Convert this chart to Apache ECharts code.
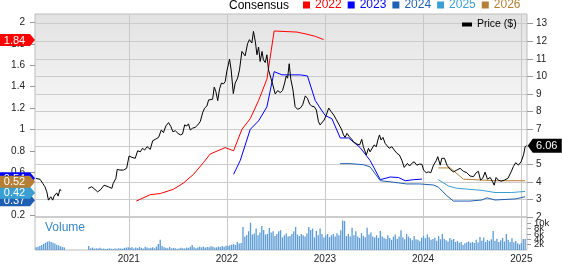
<!DOCTYPE html>
<html><head><meta charset="utf-8">
<script src="https://cdn.jsdelivr.net/npm/echarts@6/dist/echarts.min.js"></script>
<style>html,body{margin:0;padding:0;background:#fff}#c{width:562px;height:264px}</style>
</head><body><div id="c"></div>
<script>
// ---------------- DATA ----------------
const xMin = '2020-01-18', xMax = '2025-01-22';
const yearTicks = ['2021-01-01','2022-01-01','2023-01-01','2024-01-01','2025-01-01'];
const epsTicks = [0.2,0.4,0.6,0.8,1,1.2,1.4,1.6,1.8,2];
const priceTicks = [2,3,4,5,6,7,8,9,10,11,12,13];
const volTicks = [0,2,4,6,8,10,12];
const lastPriceLabel = '6.06';

const priceDates = ['2020-01-22','2020-02-06','2020-02-16','2020-02-24','2020-03-02','2020-03-08','2020-03-17','2020-03-24','2020-03-29','2020-04-03','2020-04-08','2020-04-13','2020-04-20','2020-04-24','2020-06-15',
'2020-08-03','2020-08-16','2020-08-28','2020-09-07','2020-09-19','2020-10-01','2020-10-08','2020-10-17','2020-10-30','2020-11-04','2020-11-14','2020-11-19','2020-11-29','2020-12-12','2020-12-24',
'2021-01-02','2021-01-13','2021-01-25','2021-02-03','2021-02-13','2021-02-21','2021-03-01','2021-03-10','2021-03-22','2021-03-31','2021-04-10','2021-04-22','2021-05-02','2021-05-10','2021-05-19','2021-05-29','2021-06-07','2021-06-14','2021-06-23','2021-07-03','2021-07-12','2021-07-20','2021-07-28','2021-08-05','2021-08-11','2021-08-18','2021-08-26','2021-09-05','2021-09-15','2021-09-24','2021-10-03','2021-10-10','2021-10-19','2021-10-25','2021-11-01','2021-11-09','2021-11-15','2021-11-21','2021-11-28','2021-12-05','2021-12-12','2021-12-20','2021-12-26',
'2022-01-01','2022-01-11','2022-01-17','2022-01-25','2022-02-01','2022-02-10','2022-02-17','2022-02-26','2022-03-04','2022-03-10','2022-03-19','2022-03-26','2022-04-04','2022-04-10','2022-04-17','2022-04-23','2022-04-29','2022-05-05','2022-05-12','2022-05-17','2022-05-24','2022-05-30','2022-06-05','2022-06-14','2022-06-21','2022-06-30','2022-07-09','2022-07-19','2022-07-27','2022-08-04','2022-08-10','2022-08-15','2022-08-21','2022-08-27','2022-09-04','2022-09-12','2022-09-21','2022-10-01','2022-10-10','2022-10-20','2022-10-28','2022-11-05','2022-11-13','2022-11-22','2022-11-30','2022-12-08','2022-12-14','2022-12-21','2022-12-29',
'2023-01-06','2023-01-15','2023-01-24','2023-02-03','2023-02-12','2023-02-23','2023-03-05','2023-03-11','2023-03-17','2023-03-24','2023-04-02','2023-04-11','2023-04-17','2023-04-30','2023-05-10','2023-05-18','2023-05-24','2023-06-04','2023-06-12','2023-06-18','2023-06-25','2023-07-03','2023-07-11','2023-07-17','2023-07-23','2023-07-29','2023-08-05','2023-08-13','2023-08-20','2023-08-28','2023-09-07','2023-09-16','2023-09-26','2023-10-05','2023-10-14','2023-10-23','2023-10-30','2023-11-04','2023-11-12','2023-11-20','2023-11-29','2023-12-09','2023-12-19','2023-12-28',
'2024-01-03','2024-01-13','2024-01-21','2024-01-30','2024-02-09','2024-02-19','2024-02-25','2024-03-05','2024-03-11','2024-03-21','2024-03-30','2024-04-11','2024-04-23','2024-05-06','2024-05-18','2024-05-30','2024-06-12','2024-06-24','2024-07-07','2024-07-17','2024-07-25','2024-08-02','2024-08-10','2024-08-19','2024-08-28','2024-09-07','2024-09-16','2024-09-22','2024-09-29','2024-10-07','2024-10-18','2024-10-30','2024-11-12','2024-11-24','2024-12-02','2024-12-11','2024-12-21','2024-12-31','2025-01-09','2025-01-15','2025-01-21'];
const priceValues = [4.20,4.14,3.91,3.72,3.43,2.96,3.15,2.96,3.19,3.11,3.37,3.19,3.57,3.49,null,
3.63,3.72,3.57,3.43,3.57,3.81,3.91,3.72,3.63,3.91,4.20,4.71,4.67,4.67,4.77,
5.47,5.39,5.34,5.77,5.71,5.91,5.81,6.00,5.85,6.34,6.42,6.53,6.95,6.80,7.18,7.37,7.14,6.85,6.91,6.76,6.67,6.72,7.24,7.18,7.30,6.95,7.05,7.10,7.24,7.43,7.94,8.19,8.32,8.66,8.76,8.70,9.39,9.14,8.62,9.30,9.62,9.58,9.71,
10.30,10.98,10.37,9.02,9.62,9.90,10.37,11.42,11.33,11.17,11.86,12.09,11.90,12.56,11.99,11.23,11.67,10.85,11.42,10.94,10.79,11.23,10.37,9.90,9.52,9.00,9.19,9.08,9.19,9.62,10.03,9.90,10.72,9.84,9.23,8.28,8.13,8.19,8.38,8.89,8.75,8.43,8.30,8.28,8.09,7.42,7.24,7.30,7.52,
7.80,8.20,8.00,7.80,7.55,7.24,6.95,6.67,6.53,6.76,6.57,6.42,6.28,6.15,6.10,6.42,6.00,5.53,5.91,5.71,5.80,6.10,6.00,6.38,6.67,6.38,6.53,6.19,6.10,5.91,6.00,5.81,5.62,5.53,5.24,4.82,4.90,5.05,4.90,5.05,5.14,4.95,5.01,5.00,
4.67,4.52,4.57,4.52,4.95,5.20,5.43,4.95,5.34,5.34,4.95,4.71,4.57,4.67,4.77,4.60,4.52,4.33,4.30,4.52,4.60,4.10,4.20,4.55,4.15,4.25,4.00,3.81,4.25,4.10,4.04,4.10,4.20,4.57,4.86,5.09,4.95,5.14,5.53,6.00,6.06];

const c2022Dates = ['2021-01-29','2021-03-22','2021-04-28','2021-06-16','2021-07-24','2021-08-30','2021-10-06','2021-10-31','2021-12-26','2022-01-26','2022-02-26','2022-03-29','2022-04-29','2022-05-30','2022-06-26','2022-09-19','2022-10-26','2022-11-26','2022-12-27'];
const c2022Values = [0.33,0.39,0.40,0.44,0.50,0.58,0.69,0.77,0.83,0.80,1.00,1.10,1.27,1.47,1.92,1.91,1.89,1.87,1.84];

const c2023Dates = ['2022-01-26','2022-02-20','2022-03-29','2022-04-29','2022-05-30','2022-06-26','2022-07-25','2022-10-01','2022-10-28','2022-11-26','2022-12-14','2023-01-02','2023-01-27','2023-02-27','2023-03-30','2023-05-12','2023-06-18','2023-07-26','2023-09-01','2023-10-02','2023-10-27','2023-11-26','2023-12-28'];
const c2023Values = [0.58,0.71,1.00,1.08,1.21,1.54,1.51,1.51,1.50,1.27,1.20,1.13,1.10,0.92,0.92,0.83,0.71,0.53,0.555,0.55,0.52,0.53,0.535];

const c2024Dates = ['2023-02-27','2023-04-05','2023-05-24','2023-06-18','2023-07-26','2023-09-01','2023-11-01','2023-12-20','2024-02-09','2024-02-27','2024-03-30','2024-04-23','2024-06-24','2024-08-07','2024-08-26','2024-09-25','2024-12-09','2025-01-15'];
const c2024Values = [0.68,0.68,0.67,0.65,0.52,0.51,0.49,0.49,0.48,0.46,0.38,0.33,0.33,0.34,0.36,0.34,0.35,0.37];

const c2025Dates = ['2024-02-27','2024-04-05','2024-05-06','2024-08-07','2024-09-25','2024-11-26','2025-01-15'];
const c2025Values = [0.53,0.47,0.45,0.43,0.41,0.41,0.42];

const c2026Dates = ['2024-02-27','2024-04-11','2024-05-30','2024-09-25','2025-01-15'];
const c2026Values = [0.64,0.64,0.535,0.52,0.52];

const volStart = '2020-01-22'; // weekly bars from this date
const volumeK = [1.0,1.2,1.5,1.9,2.3,2.7,3.1,3.3,3.0,2.7,2.4,2.0,1.7,1.4,1.1,0.9,
null,null,null,null,null,null,null,null,null,null,null,null,
1.5,0.6,0.9,0.5,0.7,0.6,0.8,0.5,0.6,0.4,0.5,0.6,0.5,0.4,0.6,0.5,0.7,0.6,0.5,0.8,0.9,1.0,
0.8,1.0,0.6,0.9,0.7,1.1,0.8,0.6,1.2,0.9,0.7,0.8,1.0,0.6,1.3,2.2,3.8,1.5,1.0,0.8,0.7,1.1,0.6,0.8,0.7,0.5,0.6,0.8,0.7,0.6,0.9,0.8,1.2,1.9,1.0,0.7,0.9,1.2,1.0,1.3,0.9,1.1,1.0,1.4,1.2,0.9,1.0,1.3,1.1,1.5,1.2,1.6,
1.5,1.8,2.0,2.2,1.9,3.0,2.4,2.6,8.6,5.0,5.6,7.0,10.2,5.8,6.2,8.0,5.5,6.5,9.0,7.5,5.8,6.0,8.2,6.5,7.0,5.2,6.0,7.0,
7.4,4.7,5.5,6.3,5.0,5.2,6.0,7.0,8.6,5.8,
5.2,6.0,5.5,5.0,6.2,8.6,7.5,8.0,4.7,7.1,
5.5,8.0,6.0,4.7,5.5,6.0,4.8,5.5,6.0,5.0,
6.3,5.5,7.4,11.0,10.8,5.2,6.0,5.0,8.3,5.5,
7.0,5.0,4.5,6.3,5.2,4.8,8.3,5.8,6.5,5.0,
4.7,5.5,4.5,7.1,5.0,4.6,4.1,5.5,4.5,3.8,
5.0,5.8,4.2,5.0,7.4,4.8,4.0,6.0,5.0,4.4,
3.6,5.2,4.0,3.8,3.3,4.6,5.2,4.4,5.8,4.8,
3.8,4.1,4.6,3.5,5.2,4.0,6.0,4.2,3.6,3.2,
4.5,3.8,4.1,3.0,3.4,2.7,3.0,1.9,2.5,2.9,
3.2,2.7,3.0,2.6,3.8,2.8,4.9,3.5,4.7,3.0,
3.8,3.4,4.0,7.1,3.5,4.2,3.0,3.6,4.5,3.2,
6.0,3.8,3.0,4.4,2.9,3.4,2.5,2.1,2.6,4.1,4.1];

// ---------------- CHART ----------------
const FONT = '"Liberation Sans", Arial, sans-serif';
const COLORS = {c2022:'#ff0000', c2023:'#0000ff', c2024:'#1e5fb3', c2025:'#3a9fd2', c2026:'#b57f35'};
const leftFlag = 'path://M0,0 L30,0 L35,6 L30,12 L0,12 Z';
const rightFlag = 'path://M0,7 L5,0 L34,0 L34,14 L5,14 Z';

function ts(s) { const p = s.split('-').map(Number); return new Date(p[0], p[1] - 1, p[2]).getTime(); }
function pairs(d, v) { return d.map((x, i) => [ts(x), v[i]]); }
const X0 = ts(xMin), X1 = ts(xMax);
const yearTs = yearTicks.map(ts);

function consensus(name, dates, values, color, dy, z) {
  const last = values[values.length - 1];
  return {
    name, type: 'line', xAxisIndex: 0, yAxisIndex: 0, data: pairs(dates, values),
    symbol: 'none', showSymbol: false, lineStyle: {color, width: 1}, itemStyle: {color},
    silent: true,
    markPoint: {
      z, symbol: leftFlag, symbolSize: [35, 12], symbolOffset: [-17.5, dy], silent: true,
      itemStyle: {color},
      label: {show: true, color: '#fff', fontSize: 11, fontFamily: FONT, offset: [-3, 0.5], formatter: last.toFixed(2)},
      data: [{coord: [X0, last]}]
    }
  };
}

const v0 = ts(volStart);
const volData = volumeK.map((v, i) => {
  const d = new Date(v0); d.setDate(d.getDate() + 7 * i);
  return [d.getTime(), v];
});

const chart = echarts.init(document.getElementById('c'), null, {renderer: 'canvas'});
const axisText = {color: '#222', fontSize: 10, fontFamily: FONT};
chart.setOption({
  animation: false,
  textStyle: {fontFamily: FONT},
  title: {text: 'Consensus', left: 229, top: 0, padding: 0,
    textStyle: {fontSize: 12, fontWeight: 'normal', color: '#000', fontFamily: FONT}},
  legend: [{
    left: 303, top: -1, padding: 0, itemWidth: 7, itemHeight: 7, itemGap: 6, icon: 'rect', selectedMode: false,
    textStyle: {fontSize: 12, fontFamily: FONT},
    data: [
      {name: '2022', textStyle: {color: COLORS.c2022}},
      {name: '2023', textStyle: {color: COLORS.c2023}},
      {name: '2024', textStyle: {color: COLORS.c2024}},
      {name: '2025', textStyle: {color: COLORS.c2025}},
      {name: '2026', textStyle: {color: COLORS.c2026}}
    ]
  }, {
    left: 462, top: 19, padding: 0, itemWidth: 10, itemHeight: 4, icon: 'rect', selectedMode: false,
    textStyle: {fontSize: 10.5, fontFamily: FONT, color: '#000'},
    data: ['Price ($)']
  }],
  grid: [
    {left: 35, right: 35, top: 14, height: 203, show: true, borderColor: '#bdbdbd', borderWidth: 1,
     backgroundColor: {type: 'linear', x: 0, y: 0, x2: 0, y2: 1,
       colorStops: [{offset: 0, color: '#e2e2e2'}, {offset: 0.7, color: '#ffffff'}, {offset: 1, color: '#ffffff'}]}},
    {left: 35, right: 35, top: 217, height: 37, show: true, borderColor: '#bdbdbd', borderWidth: 1, backgroundColor: '#ffffff'}
  ],
  xAxis: [
    {type: 'value', gridIndex: 0, min: X0, max: X1,
     axisLine: {show: false}, axisTick: {show: false, customValues: yearTs}, axisLabel: {show: false, customValues: yearTs},
     splitLine: {show: true, lineStyle: {color: '#c8c8c8', width: 1}}},
    {type: 'value', gridIndex: 1, min: X0, max: X1,
     axisLine: {show: false}, axisTick: {show: false, customValues: yearTs},
     axisLabel: {show: true, customValues: yearTs, margin: 4, ...axisText, formatter: v => String(new Date(v).getFullYear())},
     splitLine: {show: true, lineStyle: {color: '#c8c8c8', width: 1}}}
  ],
  yAxis: [
    {type: 'value', gridIndex: 0, position: 'left', min: 0.181, max: 2.079,
     axisLine: {show: false}, splitLine: {show: false},
     axisTick: {show: true, length: 5, customValues: epsTicks, lineStyle: {color: '#999'}},
     axisLabel: {show: true, customValues: epsTicks, margin: 10, ...axisText}},
    {type: 'value', gridIndex: 0, position: 'right', min: 2, max: 13.55,
     axisLine: {show: false},
     axisTick: {show: true, length: 6, customValues: priceTicks, lineStyle: {color: '#999'}},
     axisLabel: {show: true, customValues: priceTicks, margin: 9, ...axisText},
     splitLine: {show: true, lineStyle: {color: '#cccccc', width: 1}}},
    {type: 'value', gridIndex: 1, position: 'right', min: 0, max: 12.33,
     axisLine: {show: false}, splitLine: {show: false},
     axisTick: {show: true, length: 4, customValues: volTicks, lineStyle: {color: '#999'}},
     axisLabel: {show: true, customValues: volTicks, margin: 7, ...axisText, fontSize: 9.5, lineHeight: 9,
       formatter: v => v === 0 ? '0' : v + 'k'}}
  ],
  graphic: [
    {type: 'text', left: 45, top: 222, style: {text: 'Volume', fill: '#3a86c6', fontSize: 12, fontFamily: FONT}}
  ],
  series: [
    consensus('2022', c2022Dates, c2022Values, COLORS.c2022, 0.5, 5),
    consensus('2023', c2023Dates, c2023Values, COLORS.c2023, -1, 5),
    consensus('2024', c2024Dates, c2024Values, COLORS.c2024, 3.5, 6),
    consensus('2025', c2025Dates, c2025Values, COLORS.c2025, 1.2, 7),
    consensus('2026', c2026Dates, c2026Values, COLORS.c2026, 0.9, 8),
    {name: 'Price ($)', type: 'line', xAxisIndex: 0, yAxisIndex: 1, data: pairs(priceDates, priceValues),
     symbol: 'none', showSymbol: false, connectNulls: false, lineStyle: {color: '#000', width: 1}, itemStyle: {color: '#000'},
     silent: true,
     markPoint: {symbol: rightFlag, symbolSize: [34, 14], symbolOffset: [18, 0], silent: true,
       itemStyle: {color: '#000'},
       label: {show: true, color: '#fff', fontSize: 11, fontFamily: FONT, offset: [2, 0.5], formatter: lastPriceLabel},
       data: [{coord: [ts(priceDates[priceDates.length - 1]), priceValues[priceValues.length - 1]]}]}},
    {name: 'Volume', type: 'bar', xAxisIndex: 1, yAxisIndex: 2, data: volData,
     barWidth: 1.3, itemStyle: {color: '#5b9bd6'}, silent: true}
  ]
});
</script></body></html>
